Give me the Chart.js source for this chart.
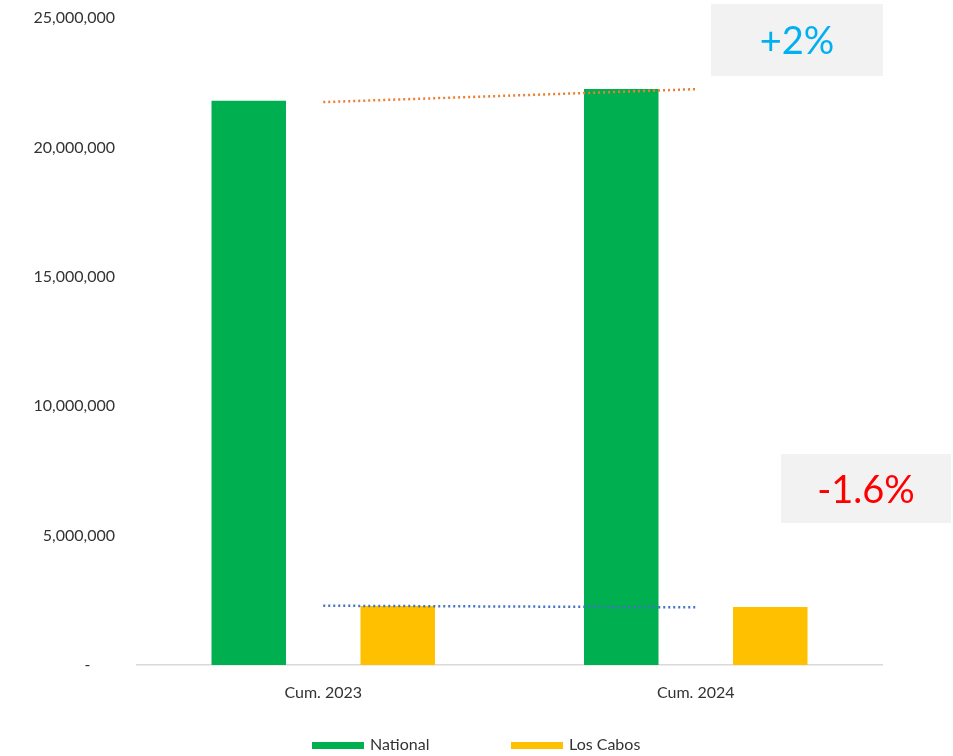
<!DOCTYPE html>
<html>
<head>
<meta charset="utf-8">
<script src="https://cdn.jsdelivr.net/npm/chart.js@4.4.1/dist/chart.umd.min.js"></script>
<style>
  html, body { margin: 0; padding: 0; background: #fff; }
  #wrap { width: 953px; height: 756px; }
</style>
</head>
<body>
<div id="wrap"><canvas id="cabos-chart" width="953" height="756"></canvas></div>
<script>
// Données
const categories = ["Cum. 2023", "Cum. 2024"];
const nationalValues = [21800000, 22260000];
const losCabosValues = [2280000, 2240000];
const nationalTrend = [21750000, 22250000];
const losCabosTrend = [2290000, 2230000];
const yTicks = [0, 5000000, 10000000, 15000000, 20000000, 25000000];
const notes = [
    { text: "+2%", color: "#00B0F0" },
    { text: "-1.6%", color: "#FF0000" },
];

const ctx = document.getElementById("cabos-chart").getContext("2d");
const FONT = "Lato, 'Open Sans', sans-serif";

// Boîtes de pourcentage (gris clair)
const notesPlugin = {
    id: "notes",
    afterDraw(chart) {
        const c = chart.ctx;
        const boxes = [
            { x: 711, y: 4, w: 172, h: 72 },
            { x: 781, y: 454, w: 170, h: 69 },
        ];
        c.save();
        notes.forEach((n, i) => {
            const b = boxes[i];
            c.fillStyle = "#F2F2F2";
            c.fillRect(b.x, b.y, b.w, b.h);
            c.fillStyle = n.color;
            c.font = "38px " + FONT;
            c.textAlign = "center";
            c.textBaseline = "middle";
            c.fillText(n.text, b.x + b.w / 2, b.y + b.h / 2 + 2);
        });
        c.restore();
    },
};

// Légende du bas (seulement les barres)
const legendPlugin = {
    id: "bottomLegend",
    afterDraw(chart) {
        const c = chart.ctx;
        const items = chart.data.datasets.filter((d) => d.type !== "line");
        const starts = [312, 511];
        c.save();
        c.font = "16px " + FONT;
        c.textBaseline = "middle";
        items.forEach((d, i) => {
            c.fillStyle = d.backgroundColor;
            c.fillRect(starts[i], 742, 52, 7);
            c.fillStyle = "#333333";
            c.fillText(d.label, starts[i] + 58, 745);
        });
        c.restore();
    },
};

const chart = new Chart(ctx, {
    data: {
        labels: categories,
        datasets: [
            {
                type: "line",
                label: "Tendance National",
                data: nationalTrend,
                borderColor: "#ED7D31",
                borderWidth: 2.5,
                borderDash: [2, 3],
                pointRadius: 0,
                fill: false,
                order: 0,
            },
            {
                type: "line",
                label: "Tendance Los Cabos",
                data: losCabosTrend,
                borderColor: "#4472C4",
                borderWidth: 2.5,
                borderDash: [2, 3],
                pointRadius: 0,
                fill: false,
                order: 0,
            },
            {
                type: "bar",
                label: "National",
                data: nationalValues,
                backgroundColor: "#00B050",
                categoryPercentage: 0.8,
                barPercentage: 0.5,
                order: 1,
            },
            {
                type: "bar",
                label: "Los Cabos",
                data: losCabosValues,
                backgroundColor: "#FFC000",
                categoryPercentage: 0.8,
                barPercentage: 0.5,
                order: 1,
            },
        ],
    },
    options: {
        responsive: false,
        animation: false,
        layout: { autoPadding: false, padding: { top: 18, right: 71, bottom: 0, left: 0 } },
        plugins: {
            legend: { display: false },
            tooltip: { enabled: false },
        },
        scales: {
            x: {
                offset: true,
                grid: { display: false, drawTicks: false },
                border: { display: true, color: "#D9D9D9", width: 1.5 },
                ticks: { color: "#333333", font: { family: FONT, size: 16 }, padding: 18 },
                afterFit(scale) { scale.height = 91; },
            },
            y: {
                min: 0,
                max: 25000000,
                afterBuildTicks(scale) { scale.ticks = yTicks.map((v) => ({ value: v })); },
                grid: { display: false, drawTicks: false },
                border: { display: false },
                ticks: {
                    color: "#333333",
                    font: { family: FONT, size: 16 },
                    padding: 22,
                    callback: (v) => (v === 0 ? "-      " : v.toLocaleString("en-US")),
                },
                afterFit(scale) {
                    scale.width = 137;
                    scale.paddingTop = 0;
                    scale.paddingBottom = 0;
                },
            },
        },
    },
    plugins: [notesPlugin, legendPlugin],
});
</script>
</body>
</html>
